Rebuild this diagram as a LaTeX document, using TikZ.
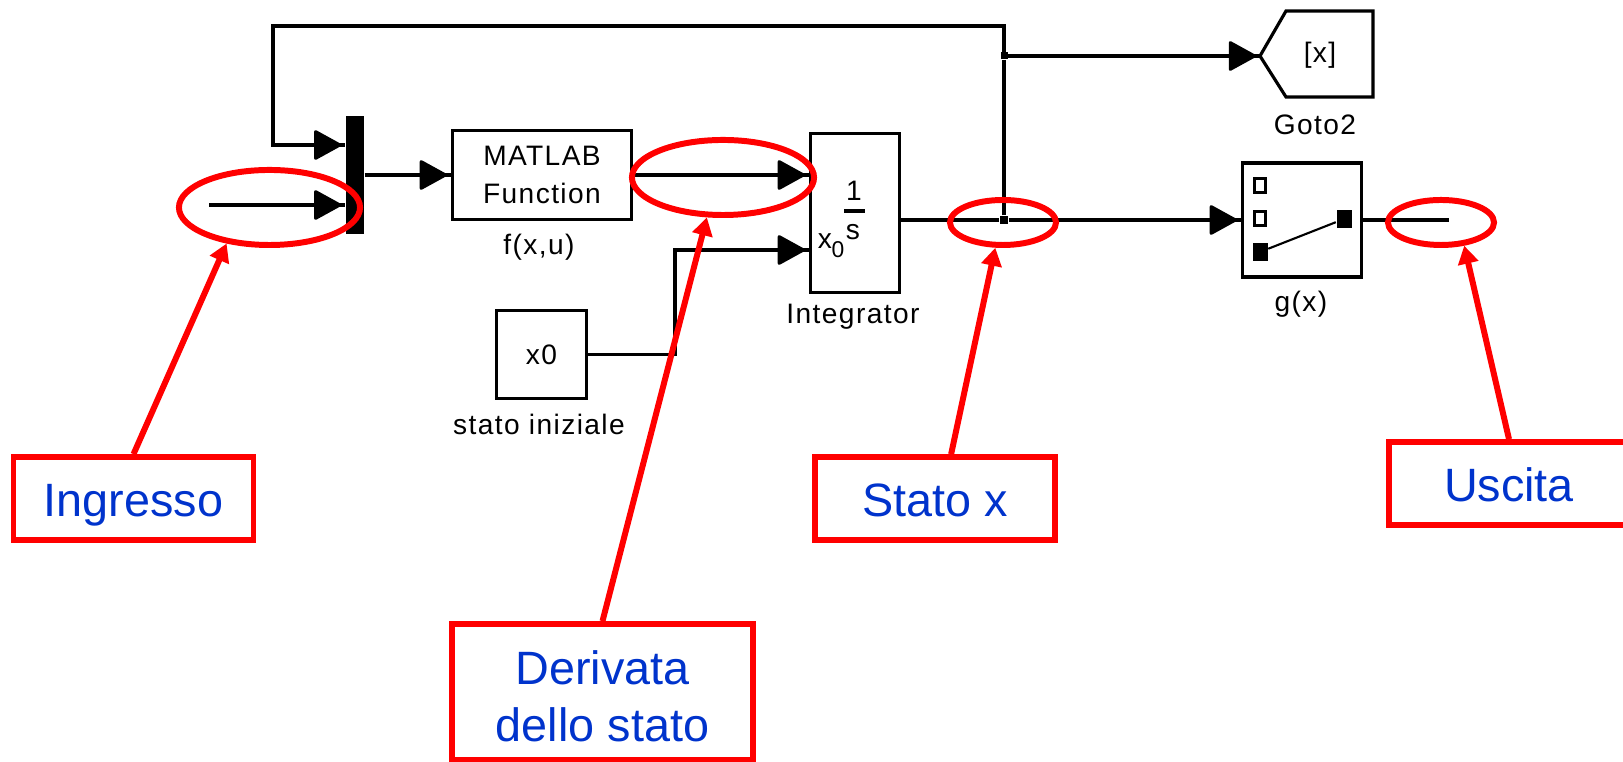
\documentclass[tikz,border=0pt]{standalone}
\usepackage{fontspec}
\setmainfont{Liberation Sans}
\newfontfamily\blockfont[LetterSpace=5]{Liberation Sans}
\usetikzlibrary{arrows.meta,decorations.markings,shapes.geometric}
\definecolor{labelblue}{RGB}{0,51,204}
\tikzset{
  wire/.style={line width=.9pt},
  sig/.style={wire,postaction={decorate},decoration={markings,mark=at position -.04cm with {\arrow{Triangle[round,length=.29cm,width=.31cm,line width=.9pt]}}}},
  block/.style={draw,line width=.9pt,inner sep=0pt,align=center,font=\blockfont\fontsize{8}{10.8}\selectfont},
  blocktext/.style={inner sep=0pt,font=\blockfont\fontsize{8}{10}\selectfont},
  junc/.style={fill=black,inner sep=0pt,minimum size=.08cm},
  ring/.style={draw=red,line width=1.7pt,ellipse,inner sep=0pt},
  callout/.style={draw=red,line width=1.7pt,-{Triangle[length=.18cm,width=.2cm]}},
  labelbox/.style={draw=red,line width=1.6pt,text=labelblue,inner sep=0pt,align=center,font=\fontsize{13.3}{16.2}\selectfont},
  labelone/.style={labelbox,minimum width=2.4cm,minimum height=.83cm,text height=.47cm,text depth=.1cm}
}
\begin{document}
\begin{tikzpicture}[x=.01cm,y=-.01cm]
\clip (0,0) rectangle (1623,762);
\node[fill=black,inner sep=0pt,minimum width=.18cm,minimum height=1.17cm] (mux) at (355,175) {};
\node[block,minimum width=1.79cm,minimum height=.89cm] (func) at (542,175) {MATLAB\\Function};
\node[block,minimum width=.89cm,minimum height=1.59cm] (int) at (855,213) {};
\node[block,minimum width=.9cm,minimum height=.88cm] (xzero) at (541.5,354.5) {x0};
\node[block,minimum width=1.19cm,minimum height=1.14cm] (gx) at (1302,220) {};
\node[junc] (jcout) at (1004,220) {};
\node[junc,minimum size=.07cm] (jctop) at (1004,56) {};
\coordinate (input) at (209,205);
\coordinate (output) at (1449,220);
\coordinate (fbtop) at (1004,26);
\coordinate (fbleft) at (273,145);
\coordinate (bend) at (675,250);
\coordinate (gotoin) at (1260,56);
% goto block
\draw[wire,line join=miter] (gotoin) -- (1286,11) -- (1373,11) -- (1373,97) -- (1286,97) -- cycle;
\node[blocktext] (gototag) at (1320,55) {[x]};
% signals
\draw[sig] (input) -- (input -| mux.west);
\draw[sig] (jctop) -- (fbtop) -| (fbleft) -- (fbleft -| mux.west);
\draw[sig] (mux) -- (func);
\draw[sig] (func.east) -- (func.east -| int.west);
\draw[sig] (xzero.east) -| (bend) -- (bend -| int.west);
\draw[wire] (jcout -| int.east) -- (jcout);
\draw[wire] (jcout) -- (jctop);
\draw[sig] (jctop) -- (gotoin);
\draw[sig] (jcout) -- (jcout -| gx.west);
\draw[wire] (jcout -| gx.east) -- (output);
% integrator
\node[blocktext] (intone) at (854,191) {1};
\draw[wire] (844,211) -- (865,211);
\node[blocktext] (ints) at (853,232) {s};
\node[blocktext] (intx) at (825,241) {x};
\node[blocktext,font=\blockfont\fontsize{6.5}{8}\selectfont] (intz) at (838,250) {0};
% switch
\foreach \y in {186,219}
\node[draw,line width=.85pt,inner sep=0pt,minimum width=.11cm,minimum height=.14cm] (sq\y) at (1260,\y) {};
\node[fill=black,inner sep=0pt,minimum width=.15cm,minimum height=.18cm] (swa) at (1260,252) {};
\node[fill=black,inner sep=0pt,minimum width=.15cm,minimum height=.18cm] (swb) at (1344,219) {};
\draw[line width=.6pt] (swa) -- (swb);
% captions
\node[blocktext] (capf) at (539,247) {f(x,u)};
\node[blocktext] (capint) at (853,317) {Integrator};
\node[blocktext] (capzero) at (539,424) {stato iniziale};
\node[blocktext] (capgoto) at (1315,125) {Goto2};
\node[blocktext] (capg) at (1301,304) {g(x)};
% red marks
\node[ring,minimum width=1.81cm,minimum height=.75cm] (ringin) at (269.5,207.5) {};
\node[ring,minimum width=1.82cm,minimum height=.75cm] (ringder) at (723,177.5) {};
\node[ring,minimum width=1.06cm,minimum height=.45cm] (ringst) at (1003,222.5) {};
\node[ring,minimum width=1.06cm,minimum height=.45cm] (ringout) at (1441,222.5) {};
\node[labelone] (ingresso) at (133.5,498.5) {Ingresso};
\node[labelone] (statox) at (935,498.5) {Stato x};
\node[labelone] (uscita) at (1509,483.5) {Uscita};
\node[labelbox,minimum width=3.01cm,minimum height=1.36cm] (derivata) at (602.5,692) {\rule{0pt}{.42cm}Derivata\\dello stato};
\draw[callout] (ingresso.north) -- (ringin.220);
\draw[callout] (derivata.north) -- (ringder.248);
\draw[callout] (statox.70) -- (ringst.253);
\draw[callout] (uscita.north) -- (ringout.315);
\end{tikzpicture}
\end{document}
